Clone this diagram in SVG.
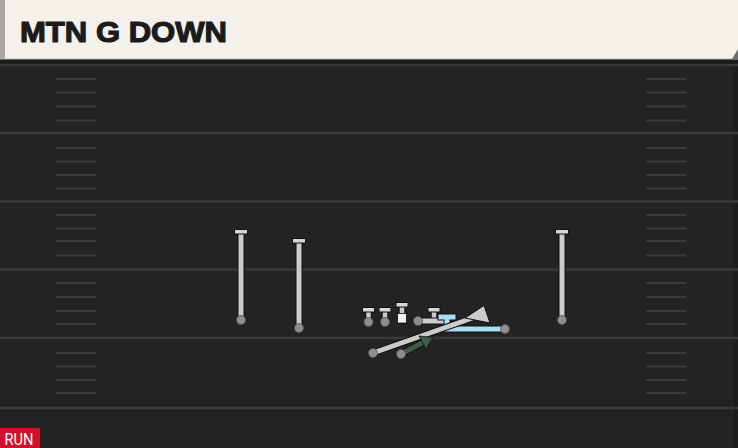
<svg xmlns="http://www.w3.org/2000/svg" width="738" height="448" viewBox="0 0 738 448">
  <defs>
    <style>
      .yard { stroke: #3a3a3a; stroke-width: 2.5; }
      .hash { stroke: #3c3c3c; stroke-width: 2; }
      .out { stroke: #111; fill: none; stroke-linecap: round; stroke-linejoin: round; }
      .gray { stroke: #cbcbcb; fill: none; stroke-linecap: round; stroke-linejoin: round; }
      .blue { stroke: #a9def0; fill: none; stroke-linecap: square; stroke-linejoin: miter; }
      .green { stroke: #3e5c48; fill: none; stroke-linecap: round; }
      .bar { fill: #d6d6d6; stroke: #111; stroke-width: 1; }
      .dot { fill: #8e8e8e; stroke: #555; stroke-width: 0.8; }
      .title { font-family: "Liberation Sans", Arial, sans-serif; font-weight: bold; font-size: 30px; fill: #1b1b1b; stroke: #1b1b1b; stroke-width: 1.2; }
      .tag { font-family: "Roboto", "Liberation Sans", sans-serif; font-size: 17px; fill: #ffffff; }
    </style>
  </defs>

  <!-- field -->
  <rect x="0" y="0" width="738" height="448" fill="#232323"/>
  <rect x="0" y="59" width="738" height="6" fill="#1a1a1a"/>
  <rect x="733" y="59" width="5" height="389" fill="#1d1d1d"/>
  <g id="yard-lines">
    <line class="yard" x1="0" y1="65" x2="738" y2="65"/>
    <line class="yard" x1="0" y1="133" x2="738" y2="133"/>
    <line class="yard" x1="0" y1="201.5" x2="738" y2="201.5"/>
    <line class="yard" x1="0" y1="269.5" x2="738" y2="269.5"/>
    <line class="yard" x1="0" y1="338" x2="738" y2="338"/>
    <line class="yard" x1="0" y1="408" x2="738" y2="408"/>
  </g>
  <g id="hashes">
    <path class="hash" d="M56 79H96M56 92.5H96M56 106.5H96M56 120.5H96 M56 148H96M56 161.5H96M56 175H96M56 188.5H96 M56 215H96M56 228.5H96M56 241H96M56 255.5H96 M56 283H96M56 297H96M56 311H96M56 324H96 M56 353H96M56 366.5H96M56 380H96M56 393H96"/>
    <path class="hash" d="M646 79H686M646 92.5H686M646 106.5H686M646 120.5H686 M646 148H686M646 161.5H686M646 175H686M646 188.5H686 M646 215H686M646 228.5H686M646 241H686M646 255.5H686 M646 283H686M646 297H686M646 311H686M646 324H686 M646 353H686M646 366.5H686M646 380H686M646 393H686"/>
  </g>

  <!-- header -->
  <g id="header">
    <rect x="0" y="0" width="738" height="59" fill="#f4f1ea"/>
    <rect x="0" y="0" width="5" height="59" fill="#a8a9a5"/>
    <line x1="0" y1="59" x2="738" y2="59" stroke="#b9b7b0" stroke-width="1"/>
    <polygon points="732,59 738,49 738,59" fill="#6d6e70"/>
    <text class="title" x="20" y="42" textLength="207" lengthAdjust="spacingAndGlyphs">MTN G DOWN</text>
  </g>

  <!-- connectors / routes -->
  <g id="connectors">
    <!-- receiver blocks -->
    <line class="out" x1="241" y1="233" x2="241" y2="320" stroke-width="7"/>
    <line class="gray" x1="241" y1="233" x2="241" y2="320" stroke-width="5"/>
    <line class="out" x1="299" y1="242" x2="299" y2="328" stroke-width="7"/>
    <line class="gray" x1="299" y1="242" x2="299" y2="328" stroke-width="5"/>
    <line class="out" x1="562" y1="233" x2="562" y2="320" stroke-width="7"/>
    <line class="gray" x1="562" y1="233" x2="562" y2="320" stroke-width="5"/>
    <!-- line blocks -->
    <path class="out" d="M368.5 311V322M385 311V322M402 306V314M434 311V321" stroke-width="6.5"/>
    <path class="gray" d="M368.5 311V322M385 311V322M402 306V314M434 311V321" stroke-width="4.5"/>
    <!-- pulling guard -->
    <line class="out" x1="418" y1="321" x2="444" y2="321" stroke-width="7"/>
    <line class="gray" x1="418" y1="321" x2="444" y2="321" stroke-width="5"/>
    <!-- blue highlighted block -->
    <path class="out" d="M505 329H447V318M441 317H453" stroke-width="7" style="stroke-linecap:square"/>
    <path class="blue" d="M505 329H447V318M441 317H453" stroke-width="5"/>
    <!-- long gray route -->
    <line class="out" x1="373" y1="353" x2="478" y2="316" stroke-width="7"/>
    <line class="gray" x1="373" y1="353" x2="478" y2="316" stroke-width="5"/>
    <polygon points="465,318 484,305.5 490,323" fill="#cbcbcb" stroke="#111" stroke-width="1" stroke-linejoin="round"/>
    <!-- green route -->
    <line class="out" x1="401" y1="354" x2="424" y2="342" stroke-width="7"/>
    <line class="green" x1="401" y1="354" x2="424" y2="342" stroke-width="5"/>
    <polygon points="433,337.5 419,336 426,349" fill="#3e5c48" stroke="#111" stroke-width="0.8" stroke-linejoin="round"/>
  </g>

  <!-- players -->
  <g id="wr-left-1">
    <rect class="bar" x="234.5" y="229.5" width="13" height="4.5"/>
    <circle class="dot" cx="241" cy="320" r="4.5"/>
  </g>
  <g id="wr-left-2">
    <rect class="bar" x="292.5" y="238.5" width="13" height="4.5"/>
    <circle class="dot" cx="299" cy="328" r="4.5"/>
  </g>
  <g id="wr-right">
    <rect class="bar" x="555.5" y="229.5" width="13" height="4.5"/>
    <circle class="dot" cx="562" cy="320" r="4.5"/>
  </g>
  <g id="ol-1">
    <rect class="bar" x="362.5" y="307.5" width="12" height="4.5"/>
    <circle class="dot" cx="368.5" cy="322" r="4.5"/>
  </g>
  <g id="ol-2">
    <rect class="bar" x="379" y="307.5" width="12" height="4.5"/>
    <circle class="dot" cx="385" cy="322" r="4.5"/>
  </g>
  <g id="center">
    <rect class="bar" x="396" y="302.5" width="12" height="4.5"/>
    <rect x="397.5" y="313.5" width="9" height="9.5" fill="#f2f2f2" stroke="#111" stroke-width="0.8"/>
  </g>
  <g id="guard-pull">
    <circle class="dot" cx="418" cy="321" r="4.5"/>
  </g>
  <g id="ol-4">
    <rect class="bar" x="428" y="307.5" width="12" height="4.5"/>
  </g>
  <g id="te-blue">
    <circle class="dot" cx="505" cy="329" r="4.5"/>
  </g>
  <g id="back-gray">
    <circle class="dot" cx="373" cy="353" r="4.5"/>
  </g>
  <g id="back-green">
    <circle class="dot" cx="401" cy="354" r="4.5"/>
  </g>

  <!-- tag -->
  <g id="run-tag">
    <rect x="0" y="428" width="40" height="20" fill="#d0112b"/>
    <text class="tag" x="4.5" y="445" textLength="29" lengthAdjust="spacingAndGlyphs">RUN</text>
  </g>
</svg>
